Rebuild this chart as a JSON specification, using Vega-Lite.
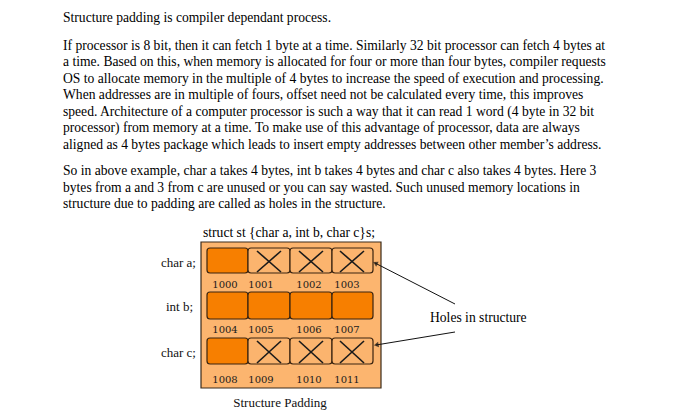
{
  "$schema": "https://vega.github.io/schema/vega-lite/v6.json",
  "width": 677,
  "height": 419,
  "autosize": {"type": "fit", "contains": "padding"},
  "padding": 0,
  "background": "white",
  "config": {"view": {"stroke": null}},
  "datasets": {
    "lines": [
      {"x": 63, "y": 18, "t": "Structure padding is compiler dependant process."},
      {"x": 63, "y": 46, "t": "If processor is 8 bit, then it can fetch 1 byte at a time. Similarly 32 bit processor can fetch 4 bytes at"},
      {"x": 63, "y": 62, "t": "a time. Based on this, when memory is allocated for four or more than four bytes, compiler requests"},
      {"x": 63, "y": 79, "t": "OS to allocate memory in the multiple of 4 bytes to increase the speed of execution and processing."},
      {"x": 63, "y": 95, "t": "When addresses are in multiple of fours, offset need not be calculated every time, this improves"},
      {"x": 63, "y": 112, "t": "speed. Architecture of a computer processor is such a way that it can read 1 word (4 byte in 32 bit"},
      {"x": 63, "y": 128, "t": "processor) from memory at a time. To make use of this advantage of processor, data are always"},
      {"x": 63, "y": 145, "t": "aligned as 4 bytes package which leads to insert empty addresses between other member’s address."},
      {"x": 63, "y": 171, "t": "So in above example, char a takes 4 bytes, int b takes 4 bytes and char c also takes 4 bytes. Here 3"},
      {"x": 63, "y": 188, "t": "bytes from a and 3 from c are unused or you can say wasted. Such unused memory locations in"},
      {"x": 63, "y": 204, "t": "structure due to padding are called as holes in the structure."},
      {"x": 203, "y": 233, "t": "struct st {char a, int b, char c}s;"},
      {"x": 430, "y": 318, "t": "Holes in structure"}
    ],
    "members": [
      {"x": 196, "y": 263, "t": "char a;"},
      {"x": 193, "y": 307, "t": "int b;"},
      {"x": 196, "y": 353, "t": "char c;"}
    ],
    "cells": [
      {"x": 207, "x2": 248, "y": 248, "y2": 273, "used": "yes"},
      {"x": 248, "x2": 290, "y": 248, "y2": 273, "used": "no"},
      {"x": 290, "x2": 332, "y": 248, "y2": 273, "used": "no"},
      {"x": 332, "x2": 373, "y": 248, "y2": 273, "used": "no"},
      {"x": 207, "x2": 248, "y": 292, "y2": 319, "used": "yes"},
      {"x": 248, "x2": 290, "y": 292, "y2": 319, "used": "yes"},
      {"x": 290, "x2": 332, "y": 292, "y2": 319, "used": "yes"},
      {"x": 332, "x2": 373, "y": 292, "y2": 319, "used": "yes"},
      {"x": 207, "x2": 248, "y": 338, "y2": 364, "used": "yes"},
      {"x": 248, "x2": 290, "y": 338, "y2": 364, "used": "no"},
      {"x": 290, "x2": 332, "y": 338, "y2": 364, "used": "no"},
      {"x": 332, "x2": 373, "y": 338, "y2": 364, "used": "no"}
    ],
    "crosses": [
      {"x": 257, "x2": 281, "y": 251, "y2": 272}, {"x": 257, "x2": 281, "y": 272, "y2": 251},
      {"x": 299, "x2": 323, "y": 251, "y2": 272}, {"x": 299, "x2": 323, "y": 272, "y2": 251},
      {"x": 340, "x2": 364, "y": 251, "y2": 272}, {"x": 340, "x2": 364, "y": 272, "y2": 251},
      {"x": 257, "x2": 281, "y": 341, "y2": 363}, {"x": 257, "x2": 281, "y": 363, "y2": 341},
      {"x": 299, "x2": 323, "y": 341, "y2": 363}, {"x": 299, "x2": 323, "y": 363, "y2": 341},
      {"x": 340, "x2": 364, "y": 341, "y2": 363}, {"x": 340, "x2": 364, "y": 363, "y2": 341}
    ],
    "addresses": [
      {"x": 225, "y": 285, "t": "1000"}, {"x": 261, "y": 285, "t": "1001"}, {"x": 309, "y": 285, "t": "1002"}, {"x": 347, "y": 285, "t": "1003"},
      {"x": 225, "y": 330, "t": "1004"}, {"x": 261, "y": 330, "t": "1005"}, {"x": 309, "y": 330, "t": "1006"}, {"x": 347, "y": 330, "t": "1007"},
      {"x": 225, "y": 380, "t": "1008"}, {"x": 261, "y": 380, "t": "1009"}, {"x": 309, "y": 380, "t": "1010"}, {"x": 347, "y": 380, "t": "1011"}
    ],
    "arrows": [
      {"x": 455, "y": 304, "x2": 375, "y2": 263},
      {"x": 455, "y": 332, "x2": 376, "y2": 345}
    ]
  },
  "encoding": {
    "x": {"field": "x", "type": "quantitative", "scale": {"domain": [0, 677], "nice": false, "zero": false}, "axis": null},
    "y": {"field": "y", "type": "quantitative", "scale": {"domain": [0, 419], "nice": false, "zero": false, "reverse": true}, "axis": null}
  },
  "layer": [
    {
      "data": {"values": [{"x": 201, "x2": 381, "y": 242, "y2": 388}]},
      "mark": {"type": "rect", "fill": "#fcb56f", "stroke": "#3a2a1a", "strokeWidth": 1.2},
      "encoding": {"x2": {"field": "x2"}, "y2": {"field": "y2"}}
    },
    {
      "data": {"name": "cells"},
      "mark": {"type": "rect", "cornerRadius": 3, "stroke": "#3a2410", "strokeWidth": 1.2},
      "encoding": {
        "x2": {"field": "x2"}, "y2": {"field": "y2"},
        "fill": {"field": "used", "type": "nominal", "scale": {"domain": ["yes", "no"], "range": ["#f77f00", "#fbb46e"]}, "legend": null}
      }
    },
    {
      "data": {"name": "crosses"},
      "mark": {"type": "rule", "color": "#1a1a1a", "strokeWidth": 1.6},
      "encoding": {"x2": {"field": "x2"}, "y2": {"field": "y2"}}
    },
    {
      "data": {"name": "arrows"},
      "mark": {"type": "rule", "color": "#111", "strokeWidth": 1},
      "encoding": {"x2": {"field": "x2"}, "y2": {"field": "y2"}}
    },
    {
      "data": {"values": [{"x": 376, "y": 263.5}]},
      "mark": {"type": "point", "shape": "triangle", "filled": true, "color": "#111", "size": 30, "angle": 297}
    },
    {
      "data": {"values": [{"x": 377, "y": 344.8}]},
      "mark": {"type": "point", "shape": "triangle", "filled": true, "color": "#111", "size": 30, "angle": 260}
    },
    {
      "data": {"name": "lines"},
      "mark": {"type": "text", "align": "left", "baseline": "middle", "font": "Liberation Serif", "fontSize": 13.6, "color": "#000"},
      "encoding": {"text": {"field": "t"}}
    },
    {
      "data": {"name": "members"},
      "mark": {"type": "text", "align": "right", "baseline": "middle", "font": "Liberation Serif", "fontSize": 13, "color": "#111"},
      "encoding": {"text": {"field": "t"}}
    },
    {
      "data": {"name": "addresses"},
      "mark": {"type": "text", "align": "center", "baseline": "middle", "font": "DejaVu Serif", "fontSize": 10, "color": "#1a1a1a"},
      "encoding": {"text": {"field": "t"}}
    },
    {
      "data": {"values": [{"x": 280, "y": 403, "t": "Structure Padding"}]},
      "mark": {"type": "text", "align": "center", "baseline": "middle", "font": "Liberation Serif", "fontSize": 13, "color": "#111"},
      "encoding": {"text": {"field": "t"}}
    }
  ]
}
